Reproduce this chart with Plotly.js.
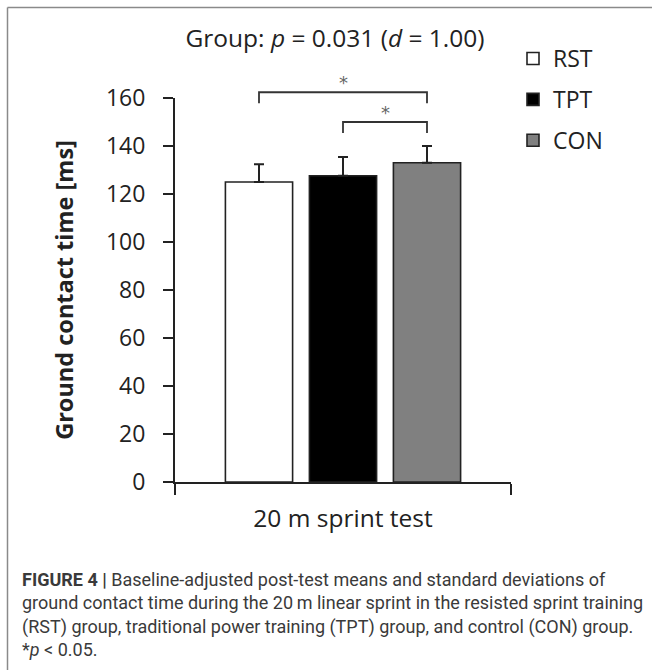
<!DOCTYPE html>
<html>
<head>
<meta charset="utf-8">
<script src="https://cdn.plot.ly/plotly-3.0.1.min.js"></script>
<style>
  html, body { margin: 0; padding: 0; background: #fff; }
  #chart { width: 652px; height: 670px; }
</style>
</head>
<body>
<div id="chart"></div>
<script>
// ---- data ----
var category = ['20 m sprint test'];
var groups = ['RST', 'TPT', 'CON'];
var means = [125.0, 127.6, 133.0];
var sds = [7.4, 7.8, 7.0];
var yTicks = [0, 20, 40, 60, 80, 100, 120, 140, 160];
var titleText = 'Group: <i>p</i> = 0.031 (<i>d</i> = 1.00)';
// significance comparisons: [from group index, to group index]
var sigPairs = [[0, 2], [1, 2]];
var sigLevels = [162.4, 150.0]; // bracket heights in ms
var caption = '<b>FIGURE 4 |</b> Baseline-adjusted post-test means and standard deviations of<br>' +
  'ground contact time during the 20\u2009m linear sprint in the resisted sprint training<br>' +
  '(RST) group, traditional power training (TPT) group, and control (CON) group.<br>' +
  '*<i>p</i> < 0.05.';

// ---- styles ----
var fills = ['#ffffff', '#000000', '#808080'];
var outline = '#222222';
var FONT = 'Open Sans';
var yMax = 160;
var barGap = 0.25, groupGap = 0.2;
var slot = (1 - barGap) / groups.length;   // distance between bar centres (category units)
function barCenter(i) { return (i - (groups.length - 1) / 2) * slot; }

var traces = groups.map(function (g, i) {
  return {
    type: 'bar',
    name: g,
    legendgroup: g,
    x: category,
    y: [means[i]],
    marker: { color: fills[i], line: { color: outline, width: 1.6 } },
    error_y: { type: 'data', array: [sds[i]], symmetric: false, arrayminus: [0],
               visible: true, color: outline, thickness: 2, width: 5 },
    hoverinfo: 'y'
  };
});

var shapes = [];
var annotations = [];
// brackets
var legLen = 4.6;
sigPairs.forEach(function (p, k) {
  var xa = barCenter(p[0]), xb = barCenter(p[1]);
  var yt = sigLevels[k] / yMax, yb = (sigLevels[k] - legLen) / yMax;
  shapes.push({ type: 'path', xref: 'x', yref: 'paper',
    path: 'M' + xa + ',' + yb + ' L' + xa + ',' + yt + ' L' + xb + ',' + yt + ' L' + xb + ',' + yb,
    line: { color: '#333', width: 1.8 } });
  annotations.push({ xref: 'x', yref: 'paper', x: (xa + xb) / 2, y: (sigLevels[k] + 3.9) / yMax,
    text: '*', showarrow: false, font: { family: 'DejaVu Sans', size: 18, color: '#666' },
    yanchor: 'middle', xanchor: 'center' });
});

// outer frame (pixel geometry converted to paper coordinates)
var L = 175, R = 141, T = 98, B = 188, W = 652, H = 670;
var pw = W - L - R, ph = H - T - B;
function px2x(px) { return (px - L) / pw; }
function py2y(py) { return (H - B - py) / ph; }
shapes.push({ type: 'line', xref: 'paper', yref: 'paper',
  x0: px2x(7.5), x1: px2x(7.5), y0: py2y(7.5), y1: py2y(H), line: { color: '#8a8a8a', width: 1.5 } });
shapes.push({ type: 'line', xref: 'paper', yref: 'paper',
  x0: px2x(7.5), x1: px2x(W), y0: py2y(7.5), y1: py2y(7.5), line: { color: '#8a8a8a', width: 1.5 } });

// caption
annotations.push({ xref: 'paper', yref: 'paper', x: px2x(20), y: py2y(567),
  xanchor: 'left', yanchor: 'top', align: 'left', showarrow: false,
  text: caption, font: { family: 'Roboto', size: 18, color: '#3a3a3a' } });

var layout = {
  width: W, height: H,
  margin: { l: L, r: R, t: T, b: B, pad: 0 },
  paper_bgcolor: '#ffffff', plot_bgcolor: '#ffffff',
  font: { family: FONT, size: 23, color: '#222222' },
  title: { text: titleText, xref: 'paper', x: px2x(335) , xanchor: 'center',
           yref: 'container', y: 1 - 38 / H, yanchor: 'middle',
           font: { family: FONT, size: 24.5, color: '#222222' } },
  barmode: 'group', bargap: barGap, bargroupgap: groupGap,
  showlegend: true,
  legend: { x: px2x(513), xanchor: 'left', y: py2y(37), yanchor: 'top',
            font: { family: FONT, size: 23, color: '#222222' },
            tracegroupgap: 8, bgcolor: 'rgba(0,0,0,0)' },
  xaxis: { type: 'category', range: [-0.5, 0.5], showline: true, linecolor: '#222', linewidth: 2,
           ticks: 'outside', tickson: 'boundaries', ticklen: 11, tickwidth: 2, tickcolor: '#222',
           showgrid: false, zeroline: false, fixedrange: true,
           tickfont: { family: FONT, size: 24.5, color: '#222' }, ticklabelstandoff: 14 },
  yaxis: { range: [0, yMax], tickvals: yTicks, showline: true, linecolor: '#222', linewidth: 2,
           ticks: 'outside', ticklen: 10, tickwidth: 2, tickcolor: '#222',
           showgrid: false, zeroline: false, fixedrange: true,
           tickfont: { family: FONT, size: 23, color: '#222' }, ticklabelstandoff: 13,
           title: { text: '<b>Ground contact time [ms]</b>', standoff: 26,
                    font: { family: FONT, size: 23.5, color: '#222' } } },
  shapes: shapes,
  annotations: annotations
};

Plotly.newPlot('chart', traces, layout, { displayModeBar: false, staticPlot: true });
</script>
</body>
</html>
